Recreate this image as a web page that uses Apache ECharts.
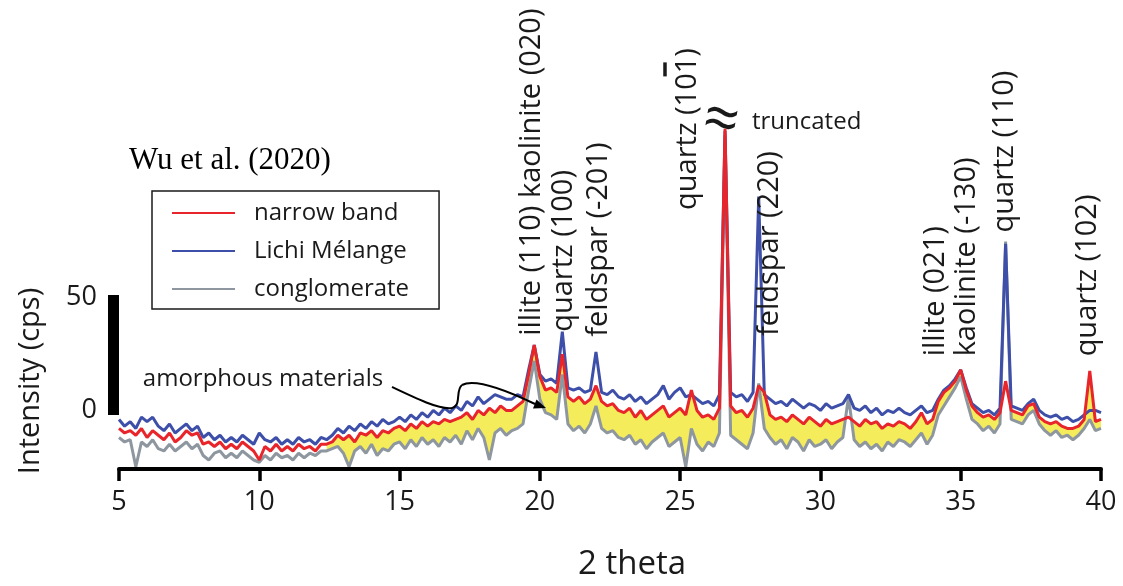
<!DOCTYPE html>
<html>
<head>
<meta charset="utf-8">
<script src="https://cdn.jsdelivr.net/npm/echarts@6/dist/echarts.min.js"></script>
<style>
  html, body { margin: 0; background: #fff; }
  #xrd { width: 1123px; height: 586px; }
</style>
</head>
<body>
<div id="xrd"></div>
<script>
// scan: 5 - 40 deg 2theta, read every 0.2 deg off the figure
const scanStart = 5;
const scanStep = 0.2;
const amorphousFrom = 12.4; // yellow band starts here

const narrowBand = [
  -12, -14, -13, -15, -12, -16, -13, -15, -17, -14,
  -18, -16, -13, -15, -14, -19, -18, -20, -18, -21,
  -19, -21, -18, -20, -22, -26, -20, -22, -19, -22,
  -20, -22, -19, -21, -20, -22, -19, -19, -18, -15,
  -17, -15, -18, -14, -15, -13, -16, -13, -14, -12,
  -11, -13, -10, -12, -9, -11, -9, -10, -8, -9,
  -8, -7, -5, -8, -4, -6, -3, -5, -2, -4,
  -4, -2, 0, 12, 25, 11, 5, 6, 4, 21,
  2, 0, 2, -1, 1, 7, 0, -2, -1, -4,
  -5, -3, -7, -4, -8, -6, -4, -2, -7, -5,
  -3, -6, 5, -4, -7, -6, -8, -3, 121, -2,
  -5, -4, -7, -3, 7, 4, -6, -8, -7, -9,
  -6, -8, -10, -7, -9, -11, -8, -10, -9, -8,
  -7, -9, -11, -8, -10, -9, -12, -10, -11, -9,
  -10, -12, -9, -5, -10, -8, 0, 4, 6, 9,
  14, 5, -2, -5, -7, -6, -8, -5, 9, -4,
  -5, -6, -2, -1, -7, -9, -10, -9, -11, -12,
  -12, -11, -8, 13.5, -9, -8
];

const lichiMelange = [
  -8, -11, -9, -12, -7, -9, -7, -11, -13, -10,
  -14, -12, -10, -13, -11, -16, -14, -17, -15, -18,
  -16, -18, -15, -17, -19, -14, -17, -18, -16, -19,
  -17, -19, -16, -18, -17, -19, -16, -17, -15, -12,
  -14, -11, -13, -10, -12, -9, -11, -8, -10, -9,
  -7, -9, -6, -8, -5, -7, -4, -6, -3, -5,
  -2, -4, 0, -2, 2, -1, 1, 3, 2, 1,
  1, 3, 2, 14, 25, 12, 9, 10, 8, 31,
  6, 5, 6, 4, 5, 22, 4, 3, 5, 2,
  1, 3, 0, 2, -1, 1, 3, 7, 1, 4,
  6, 2, 3, 1, -1, 0, -2, 3, 120, 4,
  2, 3, 0, 4, 91, 3, 1, -1, 0, -2,
  1, -1, -3, -1, -2, -4, -1, -3, -2, -1,
  3, -3, -4, -2, -5, -3, -6, -4, -5, -3,
  -5, -6, -4, -2, -5, -4, 1, 5, 7, 10,
  14, 6, -1, -3, -5, -4, -6, -3, 70, -2,
  -3, -4, -1, 1, -4, -6, -7, -6, -8, -7,
  -9, -8, -6, -4, -4, -5
];

const conglomerate = [
  -16, -18, -17, -29, -18, -20, -17, -21, -22, -19,
  -22, -20, -18, -21, -19, -24, -26, -23, -22, -25,
  -23, -25, -22, -24, -26, -27, -24, -26, -23, -25,
  -24, -26, -23, -25, -23, -24, -22, -22, -21, -20,
  -23, -29, -22, -20, -23, -19, -24, -21, -22, -19,
  -18, -21, -17, -20, -16, -19, -17, -20, -16, -18,
  -15, -19, -13, -17, -12, -16, -26, -14, -12, -15,
  -13, -12, -10, 5, 18, 1, -5, -6, -8, 12,
  -10, -13, -11, -14, -10, -2, -12, -14, -13, -16,
  -17, -15, -19, -17, -21, -18, -16, -14, -20, -18,
  -16, -29, -12, -19, -22, -18, -20, -14, 118, -15,
  -17, -19, -21, -14, 8, -12, -16, -19, -17, -21,
  -16, -18, -22, -17, -20, -19, -17, -21, -18, -16,
  2, -17, -20, -18, -21, -19, -22, -18, -20, -17,
  -18, -20, -17, -14, -19, -15, -6, -2, 2, 6,
  11, 1, -8, -10, -13, -11, -14, -10, 71, -8,
  -9, -10, -6, -4, -10, -13, -15, -13, -16, -15,
  -17, -15, -12, -8, -13, -12
];

const xTicks = [5, 10, 15, 20, 25, 30, 35, 40];
const scaleBarTicks = [0, 50];

// peak labels: text, 2theta, intensity at the foot of the label
const peakLabels = [
  ['illite (110) kaolinite (020)', 19.72, 29.1],
  ['quartz (100)', 20.86, 30.9],
  ['feldspar (-201)', 22.1, 28.7],
  ['quartz (101)', 25.28, 85],
  ['feldspar (220)', 28.2, 29],
  ['illite (021)', 34.1, 20],
  ['kaolinite (-130)', 35.22, 20],
  ['quartz (110)', 36.58, 75],
  ['quartz (102)', 39.53, 20]
];

const FONT = 'Open Sans';
const RED = '#e8252b';
const BLUE = '#3d4fa8';
const GREY = '#8e979f';
const YELLOW = '#f4ec5a';

const theta = narrowBand.map((_, i) => +(scanStart + i * scanStep).toFixed(1));
const pairs = ys => ys.map((v, i) => [theta[i], v]);
const bandTop = narrowBand.map((v, i) => [theta[i], theta[i] >= amorphousFrom ? v : null]);

const chart = echarts.init(document.getElementById('xrd'));

function lineSeries(name, data, color, z) {
  return {
    name: name,
    type: 'line',
    data: pairs(data),
    symbol: 'none',
    z: z,
    itemStyle: { color: color },
    lineStyle: { color: color, width: 3 },
    silent: true
  };
}

const markData = peakLabels.map(p => ({
  coord: [p[1], p[2]],
  label: {
    formatter: p[0],
    rotate: 90,
    align: 'left',
    verticalAlign: 'middle',
    fontSize: 29
  }
}));
markData.push({
  coord: [27.56, 124],
  label: { formatter: 'truncated', align: 'left', verticalAlign: 'middle', fontSize: 24 }
});
markData.push({
  coord: [26.45, 124],
  label: { formatter: '\u2248', align: 'center', verticalAlign: 'middle', fontSize: 62, rotate: -10 }
});
markData.push({
  coord: [5.85, 10],
  label: { formatter: 'amorphous materials', align: 'left', verticalAlign: 'middle', fontSize: 24 }
});
// bar over the last index of quartz (10-1)
markData.push({
  coord: [24.46, 147.4],
  symbol: 'rect',
  symbolSize: [3.5, 14],
  itemStyle: { color: '#1a1a1a' },
  label: { show: false }
});

// curved arrow to the amorphous hump
const arrowCurve = [
  [392, 387, 415, 398, 440, 410, 452, 408],
  [452, 408, 462, 406, 455, 390, 462, 385],
  [462, 385, 475, 378, 510, 392, 535, 404]
];

let option = {
  animation: false,
  backgroundColor: '#fff',
  title: {
    text: 'Wu et al. (2020)',
    left: 129,
    top: 145,
    padding: 0,
    textStyle: {
      fontFamily: 'Liberation Serif',
      fontSize: 31,
      fontWeight: 'normal',
      color: '#000'
    }
  },
  legend: {
    data: ['narrow band', 'Lichi M\u00e9lange', 'conglomerate'],
    orient: 'vertical',
    left: 152,
    top: 191,
    padding: [8, 30, 6, 20],
    icon: 'rect',
    itemWidth: 63,
    itemHeight: 2,
    itemGap: 10,
    borderColor: '#1a1a1a',
    borderWidth: 1.5,
    textStyle: {
      fontFamily: FONT,
      fontSize: 24,
      lineHeight: 28,
      color: '#1a1a1a',
      padding: [0, 0, 0, 14]
    }
  },
  grid: [
    // 2.3 px per cps, 0 cps at y = 409
    { left: 119, right: 22, top: 41, bottom: 108 },
    // scale bar (0 - 50 cps)
    { left: 113, width: 10, top: 295, height: 120 }
  ],
  xAxis: [
    {
      type: 'value',
      min: 5,
      max: 40,
      interval: 5,
      z: 10,
      name: '2 theta',
      nameLocation: 'middle',
      nameGap: 79,
      nameTextStyle: { fontFamily: FONT, fontSize: 33, color: '#1a1a1a', padding: [0, 0, 0, 44] },
      axisLine: { onZero: false, lineStyle: { color: '#000', width: 4 } },
      axisTick: { inside: false, length: 12, lineStyle: { color: '#000', width: 3.5 } },
      axisLabel: {
        fontFamily: FONT,
        fontSize: 27,
        color: '#1a1a1a',
        margin: 20,
        formatter: v => (xTicks.indexOf(v) >= 0 ? String(v) : '')
      },
      splitLine: { show: false }
    },
    { gridIndex: 1, type: 'value', show: false }
  ],
  yAxis: [
    { type: 'value', min: -30, max: 160, show: false },
    {
      gridIndex: 1,
      type: 'value',
      min: -2.2,
      max: 50.9,
      axisLine: { show: true, lineStyle: { color: '#000', width: 11, cap: 'butt' } },
      axisTick: { show: false },
      splitLine: { show: false },
      axisLabel: {
        customValues: scaleBarTicks,
        fontFamily: FONT,
        fontSize: 27,
        color: '#1a1a1a',
        margin: 16
      }
    }
  ],
  graphic: [
    {
      type: 'text',
      x: 31,
      y: 381,
      rotation: Math.PI / 2,
      style: {
        text: 'Intensity (cps)',
        font: '29px "Open Sans"',
        fill: '#1a1a1a',
        textAlign: 'center',
        textVerticalAlign: 'middle'
      },
      z: 20
    }
  ].concat(arrowCurve.map(c => ({
    type: 'bezierCurve',
    shape: { x1: c[0], y1: c[1], cpx1: c[2], cpy1: c[3], cpx2: c[4], cpy2: c[5], x2: c[6], y2: c[7] },
    style: { fill: null, stroke: '#000', lineWidth: 2 },
    z: 20
  }))).concat([
    {
      type: 'polygon',
      shape: { points: [[546, 408], [533, 408.5], [536.5, 399.5]] },
      style: { fill: '#000' },
      z: 20
    }
  ]),
  series: [
    {
      name: 'band',
      type: 'line',
      data: bandTop,
      symbol: 'none',
      z: 1,
      silent: true,
      lineStyle: { width: 0 },
      areaStyle: { color: YELLOW, opacity: 1, origin: 'start' }
    },
    {
      name: 'mask',
      type: 'line',
      data: pairs(conglomerate),
      symbol: 'none',
      z: 1.5,
      silent: true,
      lineStyle: { width: 0 },
      areaStyle: { color: '#fff', opacity: 1, origin: 'start' }
    },
    lineSeries('conglomerate', conglomerate, GREY, 3),
    lineSeries('Lichi M\u00e9lange', lichiMelange, BLUE, 4),
    lineSeries('narrow band', narrowBand, RED, 5),
    {
      name: 'labels',
      type: 'scatter',
      data: [],
      z: 20,
      markPoint: {
        symbol: 'circle',
        symbolSize: 1,
        itemStyle: { color: 'rgba(0,0,0,0)' },
        label: {
          show: true,
          position: 'inside',
          fontFamily: FONT,
          color: '#1a1a1a'
        },
        data: markData
      }
    }
  ]
};

chart.setOption(option);
</script>
</body>
</html>
